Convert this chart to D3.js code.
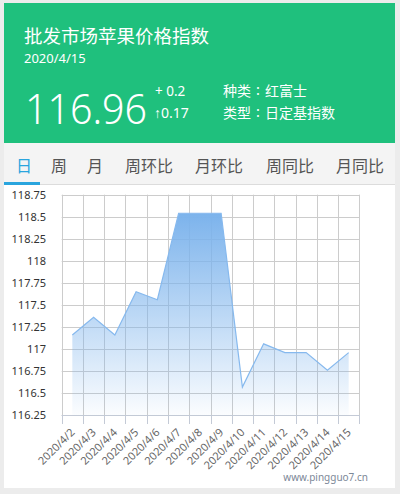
<!DOCTYPE html>
<html><head><meta charset="utf-8">
<script src="https://cdn.jsdelivr.net/npm/d3@7/dist/d3.min.js"></script>
<style>
html,body{margin:0;padding:0;background:#ececec;}
svg{display:block;}
</style></head>
<body>
<svg id="c" width="400" height="494"></svg>
<script>
const dates = ["2020/4/2","2020/4/3","2020/4/4","2020/4/5","2020/4/6","2020/4/7","2020/4/8","2020/4/9","2020/4/10","2020/4/11","2020/4/12","2020/4/13","2020/4/14","2020/4/15"];
const values = [117.16,117.36,117.16,117.65,117.56,118.54,118.54,118.54,116.57,117.06,116.96,116.96,116.76,116.96];
const yTicks = [116.25,116.5,116.75,117,117.25,117.5,117.75,118,118.25,118.5,118.75];
const tabs = ["日","周","月","周环比","月环比","周同比","月同比"];
const title = "批发市场苹果价格指数";
const dateLabel = "2020/4/15";
const current = "116.96";
const change = "+ 0.2";
const pct = "↑0.17";
const infoKeys = ["种类","类型"];
const infoVals = ["红富士","日定基指数"];

const svg = d3.select("#c");
const cjk = "'Noto Sans CJK SC','Noto Sans',sans-serif";
const lat = "'Noto Sans','Open Sans',sans-serif";

// card
svg.append("rect").attr("x",4).attr("y",3).attr("width",391).attr("height",485).attr("fill","#fff");
svg.append("rect").attr("x",4).attr("y",3).attr("width",391).attr("height",140).attr("fill","#1fc07d");
svg.append("rect").attr("x",4).attr("y",143).attr("width",391).attr("height",41).attr("fill","#f4f4f4");
svg.append("rect").attr("x",4).attr("y",184).attr("width",391).attr("height",1).attr("fill","#dcdcdc");
svg.append("rect").attr("x",4).attr("y",182).attr("width",36).attr("height",3).attr("fill","#2aa5de");

// header text
svg.append("text").attr("x",24).attr("y",43).attr("fill","#fff").attr("font-family",cjk).attr("font-size",18.5).text(title);
svg.append("text").attr("x",24).attr("y",63).attr("fill","#fff").attr("font-family",lat).attr("font-size",13).text(dateLabel);
svg.append("text").attr("x",25).attr("y",124).attr("fill","#fff").attr("font-family",lat).attr("font-weight",300).attr("font-size",42)
  .attr("textLength",122).attr("lengthAdjust","spacingAndGlyphs").text(current);
svg.append("text").attr("x",155).attr("y",96).attr("fill","#fff").attr("font-family",lat).attr("font-size",13.5).text(change);
svg.append("text").attr("x",154).attr("y",118).attr("fill","#fff").attr("font-family",lat).attr("font-size",14).text(pct);
infoKeys.forEach((t,i)=>{
  const yy = 96+i*22;
  svg.append("text").attr("x",223).attr("y",yy).attr("fill","#fff").attr("font-family",cjk).attr("font-size",14).text(t);
  svg.append("text").attr("x",258).attr("y",yy-1).attr("text-anchor","middle").attr("fill","#fff").attr("font-family",cjk).attr("font-size",14).text(":");
  svg.append("text").attr("x",265).attr("y",yy).attr("fill","#fff").attr("font-family",cjk).attr("font-size",14).text(infoVals[i]);
});

// tabs
const tabX = [16,51,87,125,195,266,336];
tabs.forEach((t,i)=>svg.append("text").attr("x",tabX[i]).attr("y",172).attr("fill",i===0?"#2aa5de":"#555").attr("font-family",cjk).attr("font-size",16).text(t));

// chart
const x = d3.scaleBand().domain(dates).range([61.7,359.3]);
const y = d3.scaleLinear().domain([116.25,118.75]).range([415.3,194.7]);
const g = svg.append("g");

// grid
g.selectAll(".hg").data(yTicks).enter().append("line")
  .attr("x1",61.7).attr("x2",359.3).attr("y1",d=>Math.round(y(d))+0.5).attr("y2",d=>Math.round(y(d))+0.5)
  .attr("stroke","#cccccc");
const bounds = dates.map(d=>x(d)).concat([x.range()[1]]);
g.selectAll(".vg").data(bounds).enter().append("line")
  .attr("x1",d=>Math.round(d)+0.5).attr("x2",d=>Math.round(d)+0.5).attr("y1",194.7).attr("y2",424)
  .attr("stroke","#cccccc");
// axis bottom
g.append("line").attr("x1",61.7).attr("x2",359.3).attr("y1",415.5).attr("y2",415.5).attr("stroke","#c4cad6");
g.selectAll(".tk").data(bounds).enter().append("line")
  .attr("x1",d=>Math.round(d)+0.5).attr("x2",d=>Math.round(d)+0.5).attr("y1",415).attr("y2",424)
  .attr("stroke","#c4cad6");

// gradient
const defs = svg.append("defs");
const grad = defs.append("linearGradient").attr("id","ag").attr("x1",0).attr("y1",0).attr("x2",0).attr("y2",1);
grad.append("stop").attr("offset","0%").attr("stop-color","#7cb3ec");
grad.append("stop").attr("offset","100%").attr("stop-color","#7cb3ec").attr("stop-opacity",0.03);

const cx = d=>x(d)+x.bandwidth()/2;
const area = d3.area().x((d,i)=>cx(dates[i])).y0(y(116.25)).y1(d=>y(d));
const line = d3.line().x((d,i)=>cx(dates[i])).y(d=>y(d));
g.append("path").datum(values).attr("d",area).attr("fill","url(#ag)");
g.append("path").datum(values).attr("d",line).attr("fill","none").attr("stroke","#86b9ee").attr("stroke-width",1.2);

// y labels
g.selectAll(".yl").data(yTicks).enter().append("text")
  .attr("x",46).attr("y",d=>y(d)).attr("dy","0.35em").attr("text-anchor","end")
  .attr("fill","#333").attr("font-family",lat).attr("font-size",11).text(d=>d);

// x labels
g.selectAll(".xl").data(dates).enter().append("text")
  .attr("transform",d=>`translate(${cx(d)+3},${433}) rotate(-45)`)
  .attr("text-anchor","end").attr("fill","#666").attr("font-family",lat).attr("font-size",11).text(d=>d);

// watermark
svg.append("text").attr("x",368).attr("y",481).attr("text-anchor","end").attr("fill","#7c8898").attr("font-family",lat).attr("font-size",10).text("www.pingguo7.cn");
</script>
</body></html>
